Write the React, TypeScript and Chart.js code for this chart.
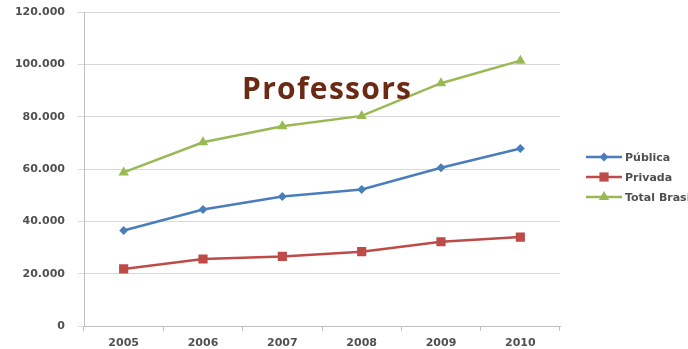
import React, { useEffect, useRef } from "react";
import { Chart, registerables } from "chart.js";
Chart.register(...registerables);

const years = ["2005", "2006", "2007", "2008", "2009", "2010"];
const publica = [36500, 44500, 49500, 52200, 60500, 67800];
const privada = [21800, 25600, 26600, 28400, 32200, 34000];
const totalBrasil = [58700, 70200, 76300, 80300, 92800, 101400];
const seriesLabels = ["Pública", "Privada", "Total Brasil"];
const seriesColors = ["#4A7EBB", "#BE4B48", "#98B954"];
const seriesMarkers = ["rectRot", "rect", "triangle"];
const markerRadius = [4.5, 6.5, 6];
const chartTitle = "Professors";

const fmt = (v: number) => String(v).replace(/\B(?=(\d{3})+(?!\d))/g, ".");

function marker(ctx: CanvasRenderingContext2D, style: string, r: number, x: number, y: number) {
  ctx.beginPath();
  if (style === "rectRot") {
    ctx.moveTo(x, y - r); ctx.lineTo(x + r, y); ctx.lineTo(x, y + r); ctx.lineTo(x - r, y);
  } else if (style === "rect") {
    const s = r * Math.SQRT1_2;
    ctx.rect(x - s, y - s, 2 * s, 2 * s);
  } else {
    ctx.moveTo(x, y - r); ctx.lineTo(x + r * 0.866, y + r / 2); ctx.lineTo(x - r * 0.866, y + r / 2);
  }
  ctx.closePath();
  ctx.fill();
}

const sideLegend = {
  id: "sideLegend",
  afterDraw(chart: any) {
    const ctx = chart.ctx;
    const x0 = 586, x1 = 622, tx = 625;
    const rows = [157, 177, 197];
    ctx.save();
    chart.data.datasets.forEach((ds: any, i: number) => {
      const y = rows[i];
      ctx.strokeStyle = ds.borderColor;
      ctx.lineWidth = 2.5;
      ctx.beginPath();
      ctx.moveTo(x0, y);
      ctx.lineTo(x1, y);
      ctx.stroke();
      ctx.fillStyle = ds.borderColor;
      marker(ctx, ds.pointStyle, ds.pointRadius, (x0 + x1) / 2, y);
      ctx.fillStyle = "#505050";
      ctx.font = "bold 11px 'DejaVu Sans'";
      ctx.textBaseline = "middle";
      ctx.textAlign = "left";
      ctx.fillText(ds.label, tx, y + 1);
    });
    ctx.restore();
  },
};

export default function App() {
  const ref = useRef<HTMLCanvasElement>(null);
  useEffect(() => {
    document.body.style.margin = "0";
    const data = [publica, privada, totalBrasil];
    const chart = new Chart(ref.current!, {
      type: "line",
      data: {
        labels: years,
        datasets: data.map((d, i) => ({
          label: seriesLabels[i],
          data: d,
          borderColor: seriesColors[i],
          backgroundColor: seriesColors[i],
          borderWidth: 2.5,
          pointStyle: seriesMarkers[i] as any,
          pointRadius: markerRadius[i],
          pointBorderWidth: 0,
          tension: 0,
        })),
      },
      options: {
        animation: false,
        responsive: false,
        layout: { padding: { top: 12, right: 128, bottom: 0, left: 0 } },
        plugins: { legend: { display: false }, title: { display: false }, tooltip: { enabled: false } },
        scales: {
          x: {
            offset: true,
            afterFit: (s: any) => { s.height = 23; s.paddingLeft = 0; s.paddingRight = 0; },
            grid: { display: true, drawOnChartArea: false, drawTicks: true, tickLength: 5, color: "#bfbfbf", offset: true },
            border: { color: "#bfbfbf" },
            ticks: { padding: 6, color: "#505050", font: { family: "'DejaVu Sans'", size: 11, weight: "bold" } },
          },
          y: {
            min: 0,
            max: 120000,
            afterFit: (s: any) => { s.width = 84; s.paddingTop = 0; s.paddingBottom = 0; },
            grid: { color: "#d9d9d9", tickLength: 6 },
            border: { color: "#bfbfbf" },
            ticks: { stepSize: 20000, padding: 13, color: "#505050", font: { family: "'DejaVu Sans'", size: 11, weight: "bold" }, callback: (v: any) => fmt(Number(v)) },
          },
        },
      },
      plugins: [sideLegend],
    });
    return () => chart.destroy();
  }, []);
  return (
    <div style={{ position: "relative", width: 688, height: 349, overflow: "hidden", background: "#fff" }}>
      <canvas ref={ref} width={688} height={349} style={{ display: "block" }} />
      <div style={{ position: "absolute", left: 242, top: 73, fontFamily: "'Open Sans'", fontWeight: "bold", fontSize: 30, letterSpacing: 1.3, color: "#6B2A14", lineHeight: "30px", whiteSpace: "nowrap" }}>{chartTitle}</div>
    </div>
  );
}
